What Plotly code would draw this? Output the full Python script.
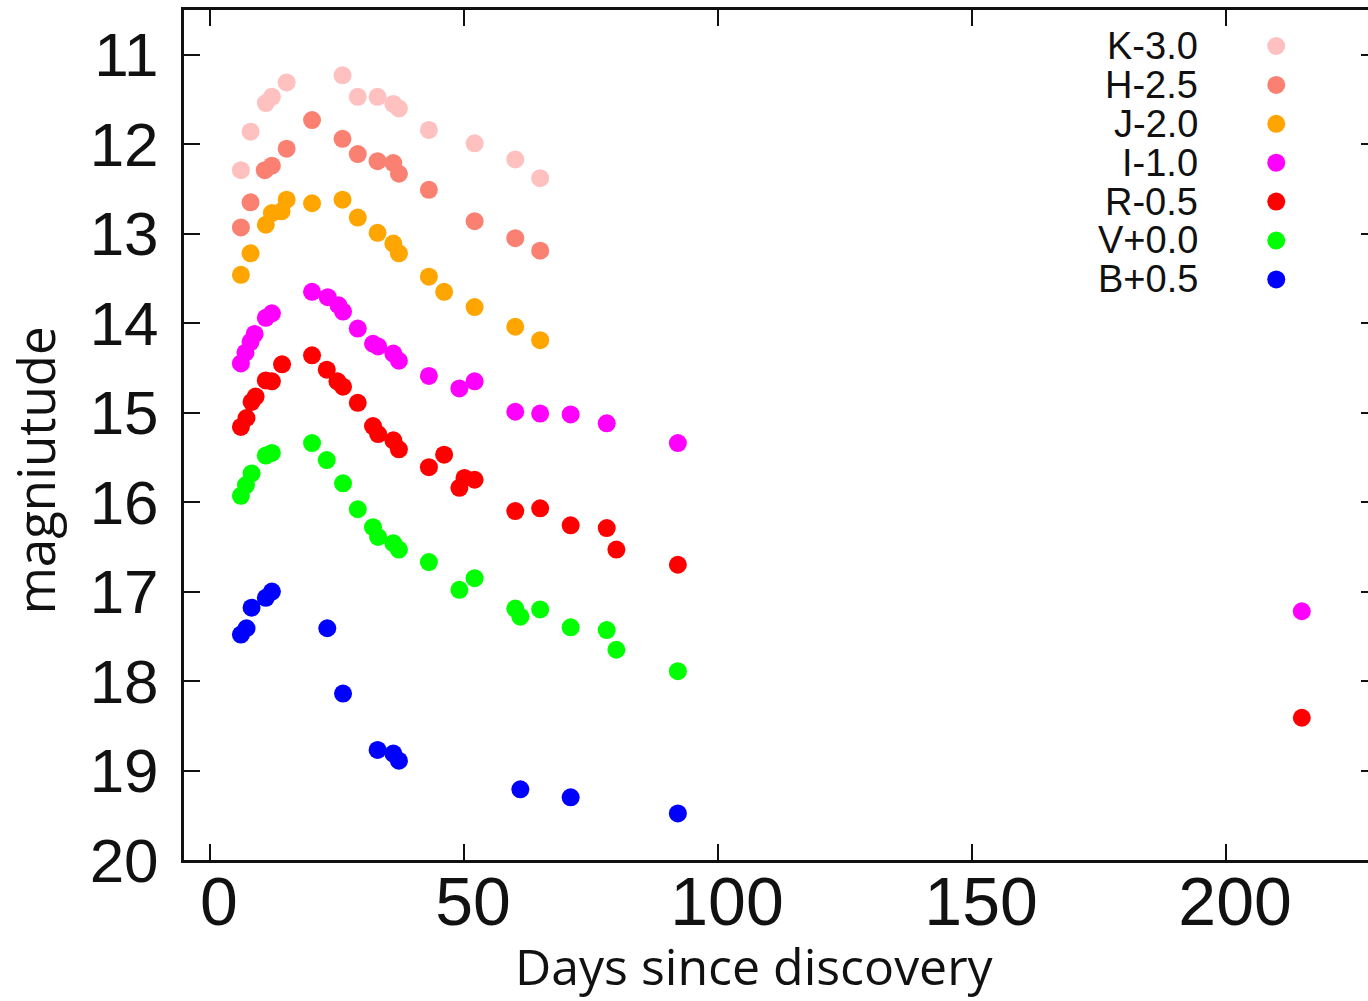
import plotly.graph_objects as go

# ---- data ----
band_labels = ["K-3.0", "H-2.5", "J-2.0", "I-1.0", "R-0.5", "V+0.0", "B+0.5"]
band_colors = ["#FFC0C0", "#FA8072", "#FFA500", "#FF00FF", "#FF0000", "#00FF00", "#0000FF"]

k_days = [6.1, 8.0, 11.0, 12.2, 15.1, 26.1, 29.1, 33.0, 36.1, 37.2, 43.1, 52.1, 60.1, 65.0]
k_mag = [12.29, 11.86, 11.54, 11.47, 11.31, 11.23, 11.47, 11.47, 11.55, 11.60, 11.84, 11.99, 12.17, 12.38]

h_days = [6.1, 8.0, 10.8, 12.2, 15.1, 20.1, 26.1, 29.1, 33.0, 36.1, 37.2, 43.1, 52.1, 60.1, 65.0]
h_mag = [12.93, 12.65, 12.29, 12.24, 12.05, 11.73, 11.94, 12.11, 12.19, 12.21, 12.33, 12.51, 12.86, 13.05, 13.19]

j_days = [6.1, 8.0, 11.0, 12.2, 14.1, 15.1, 20.1, 26.1, 29.1, 33.0, 36.1, 37.2, 43.1, 46.1, 52.1, 60.1, 65.0]
j_mag = [13.46, 13.22, 12.90, 12.77, 12.75, 12.62, 12.66, 12.62, 12.82, 12.99, 13.11, 13.22, 13.48, 13.65, 13.82, 14.04, 14.19]

i_days = [6.1, 7.0, 8.0, 8.8, 11.0, 12.2, 20.1, 23.2, 25.3, 26.2, 29.1, 32.1, 33.1, 36.1, 37.2,
          43.1, 49.1, 52.1, 60.1, 65.0, 71.0, 78.1, 92.1, 214.9]
i_mag = [14.45, 14.33, 14.21, 14.12, 13.94, 13.89, 13.65, 13.71, 13.80, 13.87, 14.06, 14.23, 14.26, 14.34, 14.42,
         14.59, 14.73, 14.65, 14.99, 15.01, 15.02, 15.12, 15.34, 17.22]

r_days = [6.1, 7.2, 8.2, 9.0, 11.0, 12.2, 14.2, 20.1, 23.0, 25.1, 26.2, 29.1, 32.1, 33.1, 36.1, 37.2,
          43.1, 46.1, 49.1, 50.1, 52.1, 60.1, 65.0, 71.0, 78.1, 80.0, 92.1, 214.9]
r_mag = [15.16, 15.06, 14.88, 14.82, 14.64, 14.65, 14.46, 14.36, 14.52, 14.65, 14.71, 14.89, 15.15, 15.24, 15.31, 15.41,
         15.61, 15.47, 15.84, 15.73, 15.75, 16.10, 16.07, 16.26, 16.29, 16.53, 16.70, 18.41]

v_days = [6.1, 7.1, 8.2, 11.0, 12.2, 20.1, 23.0, 26.2, 29.1, 32.1, 33.1, 36.1, 37.2,
          43.1, 49.1, 52.1, 60.1, 61.1, 65.0, 71.0, 78.1, 80.0, 92.1]
v_mag = [15.93, 15.81, 15.68, 15.48, 15.45, 15.34, 15.53, 15.79, 16.08, 16.28, 16.39, 16.46, 16.53,
         16.67, 16.98, 16.85, 17.19, 17.28, 17.20, 17.40, 17.43, 17.65, 17.89]

b_days = [6.1, 7.2, 8.2, 11.0, 12.2, 23.1, 26.2, 33.0, 36.1, 37.2, 61.1, 71.0, 92.1]
b_mag = [17.48, 17.41, 17.18, 17.07, 17.00, 17.41, 18.14, 18.77, 18.81, 18.89, 19.21, 19.30, 19.48]

series_days = [k_days, h_days, j_days, i_days, r_days, v_days, b_days]
series_mag = [k_mag, h_mag, j_mag, i_mag, r_mag, v_mag, b_mag]

x_tickvals = [0, 50, 100, 150, 200]
y_tickvals = [11, 12, 13, 14, 15, 16, 17, 18, 19, 20]
x_title = "Days since discovery"
y_title = "magniutude"

# ---- figure (body margin removed; the frame's right edge runs just past the window, as in the reference) ----
W, H = 1380, 1001
ML, MR, MT, MB = 184, 0, 10, 141
plot_w = W - ML - MR
plot_h = H - MT - MB


def px_to_paper(px, py):
    """page pixel -> paper coordinates"""
    return (px - ML) / plot_w, (H - MB - py) / plot_h


fig = go.Figure()
for lab, col, xs, ys in zip(band_labels, band_colors, series_days, series_mag):
    fig.add_trace(go.Scatter(x=xs, y=ys, mode="markers", name=lab,
                             marker=dict(color=col, size=18, line=dict(width=0)),
                             showlegend=False))

# legend drawn manually (labels left of symbols, as in the reference)
row_y0, row_dy = 46, 38.9
annotations = []
shapes = []
for k, (lab, col) in enumerate(zip(band_labels, band_colors)):
    py = row_y0 + k * row_dy
    tx, ty = px_to_paper(1203, py)
    mx, my = px_to_paper(1279, py)
    annotations.append(dict(text=lab, x=tx, y=ty, xref="paper", yref="paper",
                            xanchor="right", yanchor="middle", showarrow=False,
                            font=dict(family="Liberation Sans", size=38, color="#111")))
    shapes.append(dict(type="circle", xref="paper", yref="paper", xsizemode="pixel", ysizemode="pixel",
                       xanchor=mx, yanchor=my, x0=-9, x1=9, y0=-9, y1=9,
                       fillcolor=col, line=dict(width=0)))

# axis titles placed like the reference (not centred on the plot area)
xt_x, xt_y = px_to_paper(756, 966)
annotations.append(dict(text=x_title, x=xt_x, y=xt_y, xref="paper", yref="paper",
                        xanchor="center", yanchor="middle", showarrow=False,
                        font=dict(family="Open Sans", size=50, color="#111")))
yt_x, yt_y = px_to_paper(35, 470)
annotations.append(dict(text=y_title, x=yt_x, y=yt_y, xref="paper", yref="paper",
                        xanchor="center", yanchor="middle", showarrow=False, textangle=-90,
                        font=dict(family="Open Sans", size=51, color="#111")))

fig.update_layout(
    width=W, height=H,
    margin=dict(l=ML, r=MR, t=MT, b=MB),
    plot_bgcolor="white", paper_bgcolor="white",
    showlegend=False,
    annotations=annotations, shapes=shapes,
    font=dict(family="Liberation Sans", color="#111"),
)
fig.update_xaxes(
    range=[-5.1, 229.7], tickvals=x_tickvals, ticktext=[str(v) for v in x_tickvals],
    showgrid=False, zeroline=False,
    showline=True, linecolor="#111", linewidth=3, mirror="ticks",
    ticks="inside", ticklen=16, tickwidth=2, tickcolor="#111",
    tickfont=dict(family="Liberation Sans", size=68, color="#111"),
    ticklabelstandoff=-20, ticklabelshift=9,
)
fig.update_yaxes(
    range=[20, 10.5], tickvals=y_tickvals, ticktext=[str(v) for v in y_tickvals],
    showgrid=False, zeroline=False,
    showline=True, linecolor="#111", linewidth=3, mirror="ticks",
    ticks="inside", ticklen=16, tickwidth=2, tickcolor="#111",
    tickfont=dict(family="Liberation Sans", size=62, color="#111"),
    ticklabelstandoff=10,
)

fig.write_html("out.html", config={"displayModeBar": False},
               post_script="document.body.style.margin='0';document.body.style.overflow='hidden';")
